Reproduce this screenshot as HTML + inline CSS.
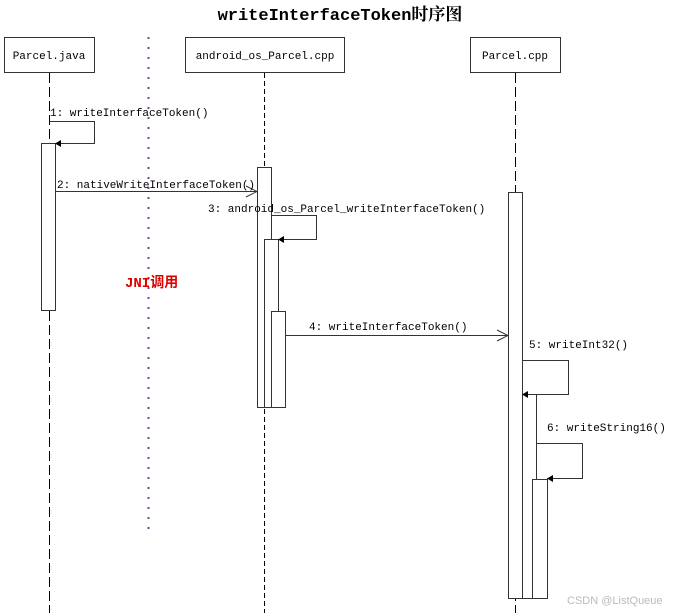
<!DOCTYPE html>
<html><head><meta charset="utf-8"><style>
html,body{margin:0;padding:0;background:#fff;}
svg{display:block;}
text{font-family:"Liberation Mono","Noto Sans CJK SC",monospace;font-size:11px;fill:#000;}
</style></head><body>
<svg width="677" height="613" viewBox="0 0 677 613" xmlns="http://www.w3.org/2000/svg">
<text x="340" y="20" text-anchor="middle" style="font-family:'Liberation Mono','Noto Serif CJK SC',monospace;font-size:17px;font-weight:bold">writeInterfaceToken时序图</text>
<g fill="#fff" stroke="#333" stroke-width="1">
<rect x="4.5" y="37.5" width="90" height="35"/>
<rect x="185.5" y="37.5" width="159" height="35"/>
<rect x="470.5" y="37.5" width="90" height="35"/>
</g>
<text x="49" y="59" text-anchor="middle">Parcel.java</text>
<text x="265" y="59" text-anchor="middle">android_os_Parcel.cpp</text>
<text x="515" y="59" text-anchor="middle">Parcel.cpp</text>
<g stroke="#000" stroke-width="1" fill="none">
<line x1="49.5" y1="73" x2="49.5" y2="613" stroke-dasharray="10,4"/>
<line x1="264.5" y1="73" x2="264.5" y2="613" stroke-dasharray="5,3"/>
<line x1="515.5" y1="73" x2="515.5" y2="613" stroke-dasharray="10,4"/>
</g>
<line x1="148.5" y1="37" x2="148.5" y2="535" stroke="#7b3fa0" stroke-width="2" stroke-dasharray="2,8"/>
<g stroke="#333" stroke-width="1" fill="#fff">
<rect x="41.5" y="143.5" width="14" height="167"/>
<rect x="257.5" y="167.5" width="14" height="240"/>
<rect x="264.5" y="239.5" width="14" height="168"/>
<rect x="271.5" y="311.5" width="14" height="96"/>
<rect x="508.5" y="192.5" width="14" height="406"/>
<rect x="522.5" y="394.5" width="14" height="204"/>
<rect x="532.5" y="479.5" width="15" height="119"/>
</g>
<g stroke="#333" stroke-width="1" fill="none">
<polyline points="49.5,121.5 94.5,121.5 94.5,143.5 55,143.5"/>
<polyline points="271.5,215.5 316.5,215.5 316.5,239.5 278,239.5"/>
<polyline points="522.5,360.5 568.5,360.5 568.5,394.5 522,394.5"/>
<polyline points="536.5,443.5 582.5,443.5 582.5,478.5 547,478.5"/>
<line x1="55.5" y1="191.5" x2="257" y2="191.5"/>
<polyline points="246,186 257,191.5 246,197"/>
<line x1="285.5" y1="335.5" x2="508" y2="335.5"/>
<polyline points="497,330 508,335.5 497,341"/>
</g>
<g fill="#000">
<polygon points="55,143.5 61,140 61,147"/>
<polygon points="278,239.5 284,236 284,243"/>
<polygon points="522,394.5 528,391 528,398"/>
<polygon points="547,478.5 553,475 553,482"/>
</g>
<text x="50" y="116">1: writeInterfaceToken()</text>
<text x="57" y="188">2: nativeWriteInterfaceToken()</text>
<text x="208" y="212">3: android_os_Parcel_writeInterfaceToken()</text>
<text x="309" y="330">4: writeInterfaceToken()</text>
<text x="529" y="348">5: writeInt32()</text>
<text x="547" y="431">6: writeString16()</text>
<text x="125" y="287" style="fill:#d00;font-weight:bold;font-size:14px;font-family:'Liberation Mono','Noto Sans CJK SC',monospace">JNI调用</text>
<text x="567" y="604" style="fill:#bbb;font-size:11px;font-family:'Liberation Sans',sans-serif">CSDN @ListQueue</text>
</svg>
</body></html>
